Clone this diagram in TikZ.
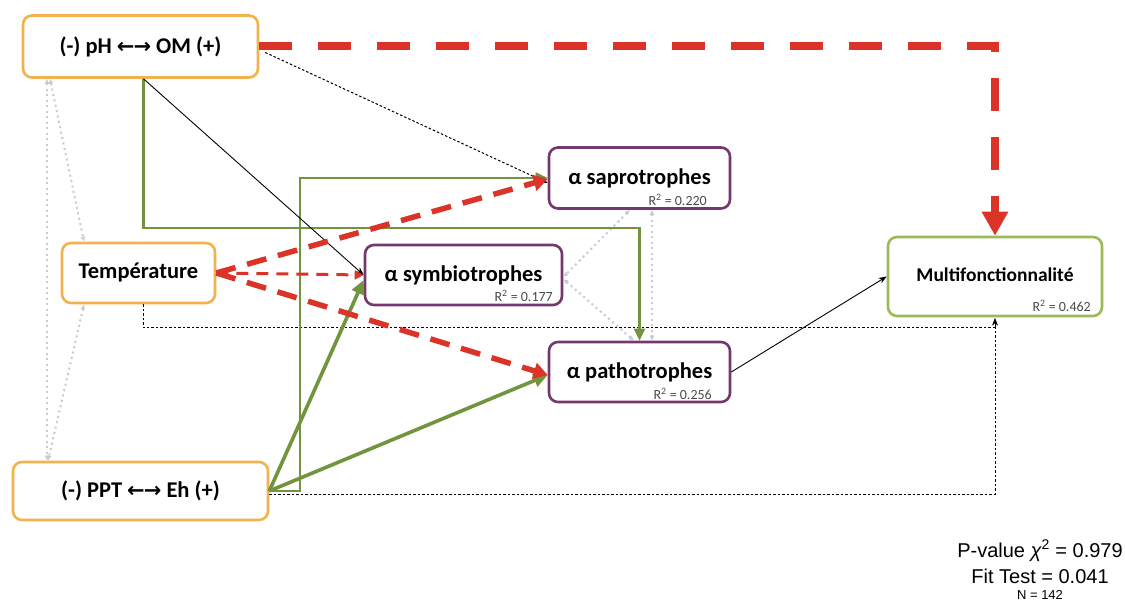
\documentclass[tikz,border=0pt]{standalone}
\usepackage{fontspec}
\setmainfont{Carlito}
\newfontfamily\statfont{Liberation Sans}
\newfontfamily\arrfont{DejaVu Sans}
\usetikzlibrary{arrows.meta}
\definecolor{orng}{HTML}{F2B24E}
\definecolor{purp}{HTML}{74386F}
\definecolor{mgreen}{HTML}{9BBB59}
\definecolor{lgreen}{HTML}{72943F}
\definecolor{dred}{HTML}{DB3328}
\definecolor{lgray}{HTML}{C9CAD2}
\definecolor{tgray}{HTML}{4A4A4A}
\newcommand{\dblarrow}{{\arrfont\bfseries\fontsize{21}{24}\selectfont ←\kern-1pt→}}
\tikzset{
  basebox/.style={draw, rounded corners=9pt, line width=2.6pt, fill=white, inner sep=0pt},
  obox/.style={basebox, draw=orng, font=\bfseries\fontsize{22.5}{26}\selectfont},
  pbox/.style={basebox, draw=purp, font=\bfseries\fontsize{22.5}{26}\selectfont},
  gbox/.style={basebox, draw=mgreen, font=\bfseries\fontsize{19.5}{23}\selectfont},
  rsq/.style={anchor=base east, inner sep=0pt, text=tgray, font=\fontsize{14}{16}\selectfont},
  bigred/.style={draw=dred, line width=8pt, dash pattern=on 33pt off 26pt, -{Triangle[length=24pt,width=25pt]}, dred},
  redmed/.style={draw=dred, line width=5.5pt, dash pattern=on 20pt off 12pt, -{Triangle[length=14pt,width=16pt]}, dred},
  redthin/.style={draw=dred, line width=3pt, dash pattern=on 12pt off 8pt, -{Triangle[length=9pt,width=9pt]}, dred},
  grn/.style={draw=lgreen, line width=2.4pt, -{Triangle[length=12pt,width=11pt]}, lgreen},
  grnthick/.style={draw=lgreen, line width=3.6pt, -{Triangle[length=14pt,width=13pt]}, lgreen},
  blk/.style={draw=black, line width=0.9pt, -{Stealth[length=8pt,width=6pt]}},
  blkdot/.style={draw=black, line width=1pt, dash pattern=on 2.5pt off 2pt, -{Stealth[length=7pt,width=5.5pt]}},
  gdot/.style={draw=lgray, line width=2pt, dash pattern=on 2pt off 3.5pt, {Latex[length=5pt,width=5pt]}-{Latex[length=5pt,width=5pt]}},
  stat/.style={font=\statfont\fontsize{20}{24}\selectfont, anchor=base, inner sep=0pt},
}
\begin{document}
\begin{tikzpicture}[x=1pt,y=-1pt]
\useasboundingbox[fill=white] (0,0) rectangle (1125,601);
% nodes
\node[obox, minimum width=235pt, minimum height=62pt] (ph) at (140.5,46.5) {(-) pH \dblarrow{} OM (+)};
\node[obox, minimum width=153pt, minimum height=60pt] (temp) at (138.5,273) {Température};
\node[obox, minimum width=255pt, minimum height=58pt] (ppt) at (140.5,491) {(-) PPT \dblarrow{} Eh (+)};
\node[pbox, minimum width=181pt, minimum height=61pt] (sap) at (639.5,178) {\raisebox{1pt}{α saprotrophes}};
\node[pbox, minimum width=197pt, minimum height=60pt] (sym) at (463.5,275) {\raisebox{1pt}{α symbiotrophes}};
\node[pbox, minimum width=181pt, minimum height=60pt] (pat) at (639.5,372) {\raisebox{1pt}{α pathotrophes}};
\node[gbox, minimum width=214pt, minimum height=79pt] (mul) at (995,276.5) {\raisebox{4pt}{Multifonctionnalité}};
% R2 labels
\node[rsq] (rsap) at (707,206) {R\textsuperscript{2} = 0.220};
\node[rsq] (rsym) at (553,302) {R\textsuperscript{2} = 0.177};
\node[rsq] (rpat) at (712,400) {R\textsuperscript{2} = 0.256};
\node[rsq] (rmul) at (1091,312) {R\textsuperscript{2} = 0.462};
% coordinates
\coordinate (xg) at (300,0);
\coordinate (yg) at (0,228);
\coordinate (yd) at (0,328);
\coordinate (xl) at (47,0);
\coordinate (xt) at (84,0);
\coordinate (xs1) at (630,0);
\coordinate (xs2) at (652,0);
\coordinate (xp1) at (634,0);
% gray covariances
\draw[gdot] (xl |- ph.south) -- (xl |- ppt.north);
\draw[gdot] ([xshift=3pt]xl |- ph.south) -- (xt |- temp.north);
\draw[gdot] (xt |- temp.south) -- ([xshift=1pt]xl |- ppt.north);
\draw[gdot] (xs1 |- sap.south) -- ([yshift=-2pt]sym.east);
\draw[gdot] (xs2 |- sap.south) -- (xs2 |- pat.north);
\draw[gdot] ([yshift=-4pt]sym.east) -- (xp1 |- pat.north);
% black dotted paths to multifunctionality
\draw[blkdot] ([xshift=5pt]temp.south) |- (mul.south |- yd) -- ([yshift=-1pt]mul.south);
\draw[blkdot] ([yshift=-3pt]ppt.east) -| ([yshift=-1pt]mul.south);
% green paths
\draw[grn] ([xshift=3pt]ph.south) |- (pat.north |- yg) -- (pat.north);
\draw[grn] (ppt.east) -| (xg |- sap.west) -- (sap.west);
\draw[grnthick] (ppt.east) -- ([yshift=-5pt]sym.west);
\draw[grnthick] (ppt.east) -- ([yshift=-3pt]pat.west);
% black paths
\draw[blkdot] ([xshift=6pt,yshift=-6pt]ph.east) -- ([yshift=-5pt]sap.west);
\draw[blk] ([xshift=3pt]ph.south) -- (sym.west);
\draw[blk] (pat.east) -- (mul.west);
% red paths
\draw[redmed] (temp.east) -- ([yshift=-1pt]sap.west);
\draw[redmed] (temp.east) -- ([yshift=-3pt]pat.west);
\draw[redthin] (temp.east) -- (sym.west);
\draw[bigred] (ph.east) -| (mul.north);
% stats
\node[stat] (st1) at (1040,557) {P-value {\itshape χ}\textsuperscript{2} = 0.979};
\node[stat] (st2) at (1040,583) {Fit Test = 0.041};
\node[stat, font=\statfont\fontsize{13}{15}\selectfont] (st3) at (1040,599.5) {N = 142};
\end{tikzpicture}
\end{document}
